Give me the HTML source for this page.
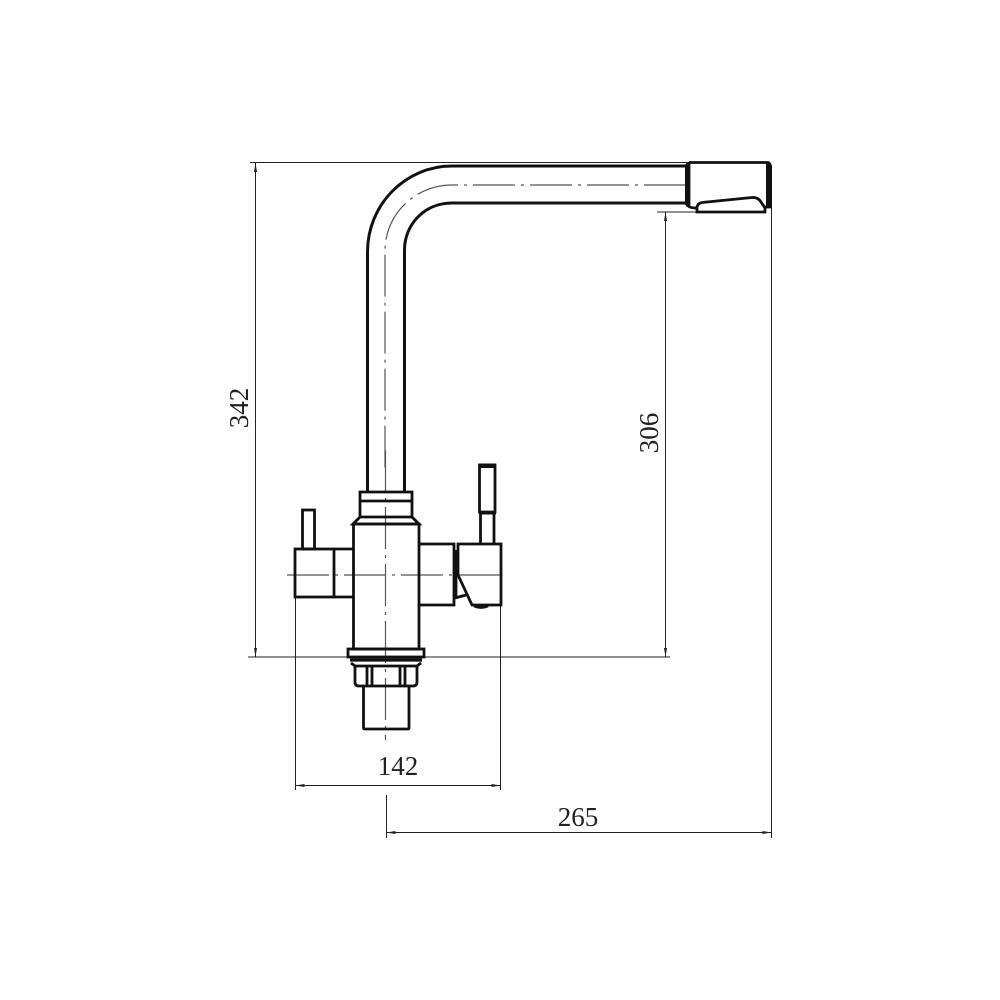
<!DOCTYPE html>
<html><head><meta charset="utf-8"><style>
html,body{margin:0;padding:0;background:#fff}
svg{display:block}
text{font-family:"Liberation Serif",serif;font-size:27px;fill:#222}
</style></head><body>
<svg width="1000" height="1000" viewBox="0 0 1000 1000" xmlns="http://www.w3.org/2000/svg">
<rect width="1000" height="1000" fill="#fff"/>
<!-- dimension lines -->
<g fill="none" stroke="#222" stroke-width="1">
<path d="M250 162.500H690M248 657H670M255.500 163V657M657 212H700M665.500 212V657M771.500 208V838M295.500 597V790M500.500 605V790M295 785.500H501M386.500 795V838M386 832.500H771"/>
</g>
<g fill="#222">
<path d="M255.500 163l-1.500 9h3zM255.500 657l-1.500-9h3zM665.500 212l-1.500 9h3zM665.500 657l-1.500-9h3zM295.500 785.500l9-1.500v3zM500.500 785.500l-9-1.500v3zM386.500 832.500l9-1.500v3zM771.500 832.500l-9-1.500v3z"/>
</g>
<!-- centre lines -->
<g fill="none" stroke="#555" stroke-width="1.200">
<path d="M686 185H452A67 66 0 0 0 385 251V470" stroke-dasharray="42 6 3 6"/>
<path d="M385.500 450V740" stroke-dasharray="42 6 3 6"/>
<path d="M287 575H500" stroke-dasharray="42 6 3 6"/>
</g>
<!-- spout -->
<g fill="none" stroke="#111" stroke-width="3">
<path d="M686 166H452C405 166 367.500 205 367.500 252V492"/>
<path d="M686 203H452C425 203 404.500 224 404.500 250V492"/>
</g>
<!-- head -->
<path d="M689 162.500H768Q770 163 770 166V207H700M689 164V206Q689 208 697 208" fill="#fff" stroke="#111" stroke-width="2.800"/>
<path d="M685 167Q685 162 690 161.500V208Q685 207 685 203ZM766 161.500Q772 162 772 167V208H766Z" fill="#111"/>
<path d="M697 212V207Q698 203 702 202.500L752 197.500Q758 197 761 202L765 208V212Z" fill="#fff" stroke="#111" stroke-width="2.800"/>
<!-- valve body -->
<g fill="none" stroke="#111" stroke-width="2.800">
<path d="M360 492H412V501H360ZM360 492V517L353 524H419L412 517V501M360 517H412"/>
<rect x="353.500" y="524" width="65.500" height="125"/>
<rect x="348" y="649" width="76" height="8"/>
<path d="M350 660H422" stroke-width="3.200"/>
<path d="M351 663L355 666H417L421 663"/>
<path d="M355 665V682Q355 686 359 686H413Q417 686 417 682V665"/>
<path d="M367 665V686M372 665V686M400 665V686M405 665V686"/>
<path d="M363.500 686V728Q363.500 729 365 729H408Q409 729 409 728V686"/>
<!-- left -->
<rect x="295" y="549" width="39" height="48"/>
<path d="M334 549H353M334 597H353"/>
<rect x="302.500" y="510" width="12" height="39"/>
<!-- right -->
<path d="M419 544H454V605H419"/>
<path d="M455 598L466 595M456 550V598"/>
<path d="M458 544H501V605H472L458 575Z"/>
<path d="M474 606Q481 609 488 606"/>
<path d="M480.500 514V544M494 514V544"/>
<path d="M479.500 465H495V512H479.500Z"/>
</g>
<path d="M479 463.500H496V468H479ZM479 511H496V514.500H479Z" fill="#111"/>
<!-- labels -->
<text x="398" y="775" text-anchor="middle">142</text>
<text x="578" y="826" text-anchor="middle">265</text>
<text transform="translate(248 408) rotate(-90)" text-anchor="middle">342</text>
<text transform="translate(658 433) rotate(-90)" text-anchor="middle">306</text>
</svg>
</body></html>
